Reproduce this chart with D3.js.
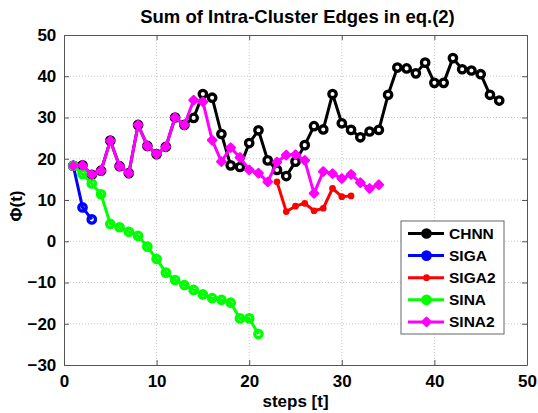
<!DOCTYPE html>
<html>
<head>
<meta charset="utf-8">
<script src="https://cdn.jsdelivr.net/npm/d3@7"></script>
<style>
  body { margin: 0; background: #fff; }
  svg { display: block; font-family: "Liberation Sans", Arial, sans-serif; font-weight: bold; }
</style>
</head>
<body>
<svg width="538" height="413"></svg>
<script>
const width = 538;
const height = 413;
const margin = {top: 35, right: 11, bottom: 48, left: 64};

// first step of every series, values follow one per step
const chnnStart = 1;
const chnnValues = [18.3, 18.4, 16.1, 17.1, 24.4, 18.2, 16.5, 28.2, 23.1, 21.1, 22.9, 30.0, 28.2,
  29.9, 35.7, 34.8, 26.0, 18.4, 18.0, 23.8, 26.9, 19.6, 17.3, 15.8, 19.3, 23.3, 27.9, 27.1,
  35.7, 28.6, 27.0, 25.2, 26.6, 27.0, 35.5, 42.1, 41.9, 40.7, 43.3, 38.4, 38.4, 44.4, 41.7,
  41.4, 40.5, 35.5, 34.1];
const sigaStart = 1;
const sigaValues = [18.3, 8.2, 5.3];
const siga2Start = 23;
const siga2Values = [14.4, 7.2, 8.5, 9.2, 7.4, 8.0, 12.8, 10.8, 11.0];
const sinaStart = 1;
const sinaValues = [18.3, 16.3, 14.0, 11.4, 4.2, 3.4, 2.3, 1.3, -1.3, -4.3, -7.6, -9.4, -10.6,
  -11.8, -12.9, -13.8, -14.2, -14.9, -18.7, -18.7, -22.5];
const sina2Start = 1;
const sina2Values = [18.3, 18.4, 16.1, 17.1, 24.4, 18.2, 16.5, 28.2, 23.1, 21.1, 22.9, 30.0, 28.2,
  34.2, 33.8, 24.5, 19.3, 22.7, 20.3, 17.3, 16.5, 14.4, 19.2, 20.9, 21.0, 19.6, 11.6, 16.9,
  16.4, 15.2, 16.2, 14.2, 12.8, 13.7];

const seriesNames = ['CHNN', 'SIGA', 'SIGA2', 'SINA', 'SINA2'];
const xTicks = [0, 10, 20, 30, 40, 50];
const yTicks = [-30, -20, -10, 0, 10, 20, 30, 40, 50];

const series = [
  {name: seriesNames[0], start: chnnStart, values: chnnValues, color: '#000000', marker: 'ring'},
  {name: seriesNames[1], start: sigaStart, values: sigaValues, color: '#0000ff', marker: 'open'},
  {name: seriesNames[2], start: siga2Start, values: siga2Values, color: '#ff0000', marker: 'dot'},
  {name: seriesNames[3], start: sinaStart, values: sinaValues, color: '#00ff00', marker: 'open'},
  {name: seriesNames[4], start: sina2Start, values: sina2Values, color: '#ff00ff', marker: 'diamond'}
];

const svg = d3.select('svg');

const x = d3.scaleLinear().domain([0, 50]).range([margin.left, width - margin.right]);
const y = d3.scaleLinear().domain([-30, 50]).range([height - margin.bottom, margin.top]);

// grid
const grid = svg.append('g')
    .attr('stroke', '#c8c8c8')
    .attr('stroke-width', 1)
    .attr('stroke-dasharray', '1,2');
grid.selectAll('.gx').data(xTicks.slice(1, -1)).enter().append('line')
    .attr('x1', d => x(d)).attr('x2', d => x(d))
    .attr('y1', y(-30)).attr('y2', y(50));
grid.selectAll('.gy').data(yTicks.slice(1, -1)).enter().append('line')
    .attr('y1', d => y(d)).attr('y2', d => y(d))
    .attr('x1', x(0)).attr('x2', x(50));

// axes, ticks pointing inward like matlab
const axisColor = '#555';
const fs = '17px';

const xAxis = svg.append('g')
    .attr('transform', `translate(0,${y(-30)})`)
    .call(d3.axisBottom(x).tickValues(xTicks).tickSizeInner(-5).tickSizeOuter(0).tickPadding(10));
const yAxis = svg.append('g')
    .attr('transform', `translate(${x(0)},0)`)
    .call(d3.axisLeft(y).tickValues(yTicks).tickSizeInner(-5).tickSizeOuter(0).tickPadding(6));
const xTop = svg.append('g')
    .attr('transform', `translate(0,${y(50)})`)
    .call(d3.axisTop(x).tickValues(xTicks).tickSizeInner(-5).tickSizeOuter(0).tickFormat(''));
const yRight = svg.append('g')
    .attr('transform', `translate(${x(50)},0)`)
    .call(d3.axisRight(y).tickValues(yTicks).tickSizeInner(-5).tickSizeOuter(0).tickFormat(''));

[xAxis, yAxis, xTop, yRight].forEach(g => {
  g.selectAll('path, line').attr('stroke', axisColor);
  g.selectAll('text')
      .attr('fill', '#000')
      .style('font-size', fs)
      .style('font-weight', 'bold')
      .style('font-family', '"Liberation Sans", Arial, sans-serif');
});
yAxis.selectAll('text').attr('dx', '-0.1em');

// lines and markers
const line = d3.line()
    .x(d => x(d.step))
    .y(d => y(d.value));

const diamond = d3.symbol().type(d3.symbolSquare).size(34);

function drawMarker(g, s, points) {
  if (s.marker === 'diamond') {
    g.selectAll('path.m').data(points).enter().append('path')
        .attr('class', 'm')
        .attr('transform', d => `translate(${x(d.step)},${y(d.value)}) rotate(45)`)
        .attr('d', diamond)
        .attr('fill', s.color)
        .attr('stroke', s.color)
        .attr('stroke-width', 2.4)
        .attr('stroke-linejoin', 'round');
  } else {
    g.selectAll('circle').data(points).enter().append('circle')
        .attr('cx', d => x(d.step))
        .attr('cy', d => y(d.value))
        .attr('r', s.marker === 'dot' ? 2.6 : 3.7)
        .attr('fill', s.marker === 'ring' ? '#fff' : (s.marker === 'dot' ? s.color : 'none'))
        .attr('stroke', s.color)
        .attr('stroke-width', s.marker === 'dot' ? 1.5 : 3.3);
  }
}

series.forEach(s => {
  const points = s.values.map((v, i) => ({step: s.start + i, value: v}));
  const g = svg.append('g').attr('class', 'series');
  g.append('path')
      .datum(points)
      .attr('d', line)
      .attr('fill', 'none')
      .attr('stroke', s.color)
      .attr('stroke-width', 3)
      .attr('stroke-linejoin', 'round');
  drawMarker(g, s, points);
});

// legend
const lx = 401, ly = 221, lw = 103, lh = 113;
const legend = svg.append('g');
legend.append('rect')
    .attr('x', lx).attr('y', ly).attr('width', lw).attr('height', lh)
    .attr('fill', '#fff').attr('stroke', '#666').attr('stroke-width', 1);

series.forEach((s, i) => {
  const cy = ly + 12.5 + i * 22.1;
  const item = legend.append('g');
  item.append('line')
      .attr('x1', lx + 7).attr('x2', lx + 43)
      .attr('y1', cy).attr('y2', cy)
      .attr('stroke', s.color).attr('stroke-width', 3);
  const mk = item.append('g');
  drawMarker(mk, Object.assign({}, s, {marker: s.marker === 'ring' || s.marker === 'open' ? 'open' : s.marker}),
    [{step: x.invert(lx + 25.5), value: y.invert(cy)}]);
  mk.selectAll('circle').attr('fill', s.color);
  item.append('text')
      .attr('x', lx + 48).attr('y', cy)
      .attr('dy', '0.36em')
      .style('font-size', '15.5px')
      .text(s.name);
});

// titles
svg.append('text')
    .attr('x', (x(0) + x(50)) / 2 + 2)
    .attr('y', 22.5)
    .attr('text-anchor', 'middle')
    .style('font-size', '18.5px')
    .text('Sum of Intra-Cluster Edges in eq.(2)');

svg.append('text')
    .attr('x', (x(0) + x(50)) / 2)
    .attr('y', 407)
    .attr('text-anchor', 'middle')
    .style('font-size', fs)
    .text('steps [t]');

svg.append('text')
    .attr('transform', `translate(22,${(y(-30) + y(50)) / 2 + 6}) rotate(-90)`)
    .attr('text-anchor', 'middle')
    .style('font-size', fs)
    .text('Φ(t)');
</script>
</body>
</html>
